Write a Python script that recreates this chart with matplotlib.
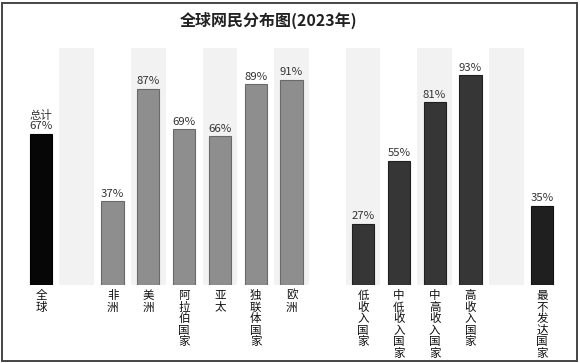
import matplotlib
matplotlib.use("Agg")
import matplotlib.pyplot as plt
from matplotlib.patches import Rectangle

plt.rcParams['font.family'] = ['Noto Sans CJK SC', 'DejaVu Sans']

title = "全球网民分布图(2023年)"
categories = ["全球", "", "非洲", "美洲", "阿拉伯国家", "亚太", "独联体国家", "欧洲", "",
              "低收入国家", "中低收入国家", "中高收入国家", "高收入国家", "", "最不发达国家"]
values = [67, None, 37, 87, 69, 66, 89, 91, None, 27, 55, 81, 93, None, 35]
groups = ["total", None, "region", "region", "region", "region", "region", "region", None,
          "income", "income", "income", "income", None, "ldc"]
prefix = {0: "总计"}

fill = {"total": "#060606", "region": "#8e8e8e", "income": "#363636", "ldc": "#1f1f1f"}
edge = {"total": "#000000", "region": "#6a6a6a", "income": "#202020", "ldc": "#111111"}

W, H = 580, 363
fig = plt.figure(figsize=(W / 100, H / 100), dpi=100)
fig.patch.set_facecolor("white")

# outer frame
fig.add_artist(Rectangle((1.5 / W, 2.5 / H), (W - 5) / W, (H - 5) / H, transform=fig.transFigure,
                         fill=False, edgecolor="#444444", linewidth=1.4))

left_px, right_px = 23.1, 559.9
top_px, base_px = 48.0, 284.5
ax = fig.add_axes([left_px / W, (H - base_px) / H, (right_px - left_px) / W, (base_px - top_px) / H])
ax.set_xlim(-0.5, len(categories) - 0.5)
ax.set_ylim(0, 105)
ax.axis("off")
px_per_unit = (base_px - top_px) / 105.0

# alternating background bands
for i in range(len(categories)):
    if i % 2 == 1:
        ax.axvspan(i - 0.485, i + 0.485, ymin=0, ymax=1, color="#f3f2f3", zorder=0, lw=0)

label_top_px = 289.0
for i, (cat, v, g) in enumerate(zip(categories, values, groups)):
    if v is None:
        continue
    ax.bar(i, v, width=0.62, color=fill[g], edgecolor=edge[g], linewidth=0.8, zorder=2)
    txt = f"{v}%"
    if i in prefix:
        txt = prefix[i] + "\n" + txt
    ax.text(i, v + 1.0, txt, ha="center", va="bottom", fontsize=8.2, color="#333333",
            linespacing=1.0, zorder=3)
    ax.text(i, -(label_top_px - base_px) / px_per_unit, "\n".join(cat), ha="center", va="top",
            fontsize=8.3, color="#111111", linespacing=0.86, zorder=3, clip_on=False)

fig.text(268.5 / W, 1 - 20.5 / H, title, ha="center", va="center", fontsize=11.5,
         fontweight="bold", color="#222222")

fig.savefig("out.png", dpi=100)
